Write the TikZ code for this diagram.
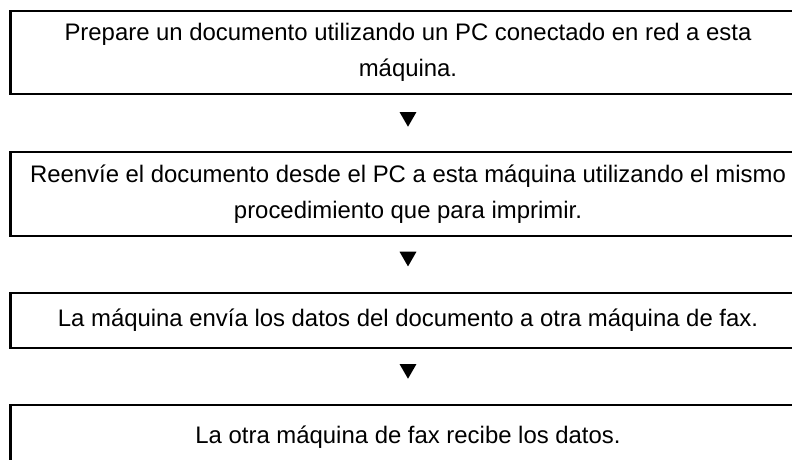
\documentclass[tikz,border=0pt]{standalone}
\usepackage{fontspec}
\setmainfont{Liberation Sans}
\usetikzlibrary{shapes.geometric}

\begin{document}
\begin{tikzpicture}[x=1pt,y=1pt,
  box/.style={draw,line width=2.5pt,minimum width=795pt,align=center,inner sep=0pt,
    font=\fontsize{23.9}{36.5}\selectfont},
  tri/.style={fill,regular polygon,regular polygon sides=3,shape border rotate=180,
    minimum size=19.6pt,inner sep=0pt}]
\useasboundingbox (0,0) rectangle (792,-459);
\node[box,minimum height=83pt] (prep) at (408,-52.5)
 {Prepare un documento utilizando un PC conectado en red a esta\\máquina.};
\node[box,minimum height=84pt] (reenv) at (408,-194)
 {Reenvíe el documento desde el PC a esta máquina utilizando el mismo\\procedimiento que para imprimir.};
\node[box,minimum height=55pt] (envia) at (408,-320.5)
 {La máquina envía los datos del documento a otra máquina de fax.};
\node[box,minimum height=65pt] (recibe) at (408,-437.5)
 {La otra máquina de fax recibe los datos.};
\node[tri] (t1) at (408,-116.9) {};
\node[tri] (t2) at (408,-256.6) {};
\node[tri] (t3) at (408,-368.9) {};
\end{tikzpicture}
\end{document}
